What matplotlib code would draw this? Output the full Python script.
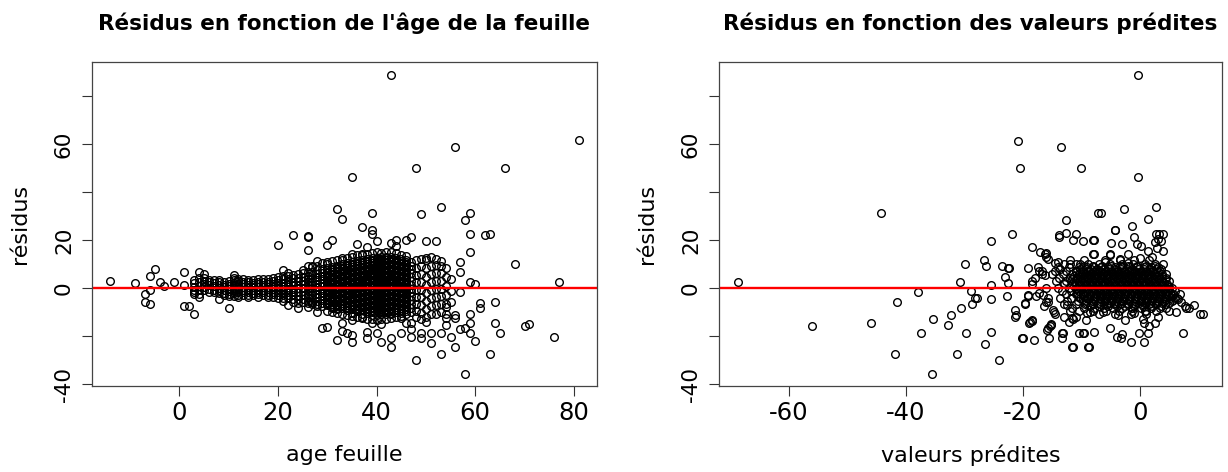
import numpy as np
import matplotlib
matplotlib.use("Agg")
import matplotlib.pyplot as plt

plt.rcParams['font.family'] = ['DejaVu Sans']

# -----------------------------------------------------------
# Panel 1 : residus en fonction de l'age de la feuille
# points isoles (age, residu)
points_age = [
    (-14, 2.9), (-9, 2.1), (-7, -2.5), (-7, -5.7), (-6, -6.7), (-6, 5.1), (-6, -0.8),
    (-5, 7.8), (-4, 2.5), (-3, 1.0), (-1, 2.5), (1, 6.8), (1, 1.4), (1, -7.5),
    (2, -7.5), (3, -11.0), (3, 3.3), (3, -1.5), (3, -2.5), (4, 6.5), (4, -3.6),
    (5, 5.8), (5, 1.7), (7, 3.3), (8, -4.6), (10, -8.5), (11, 5.4),
    (20, 17.8), (21, 7.5), (22, -7.1), (23, 22.1), (24, -8.5), (26, 21.7), (26, 21.2),
    (26, 15.8), (26, 9.2), (27, 9.0), (28, 11.4), (28, -10.1), (29, -16.5), (30, -16.1),
    (30, 17.8), (31, 20.0), (31, -8.5), (32, 32.8), (32, -21.7), (33, 28.8), (33, -14.4),
    (33, -17.8), (33, 11.7), (34, -18.9), (35, 46.1), (35, 14.4), (35, -13.3), (35, -19.6),
    (35, -22.6), (36, 18.3), (37, 25.6), (37, -11.9), (37, 13.8), (38, 17.0), (38, -18.2),
    (38, -21.0), (39, 31.4), (39, 24.4), (39, 22.4), (39, -14.4), (40, 19.7), (40, -18.9),
    (41, -15.0), (41, -22.6), (43, 18.6), (43, 88.9), (43, -20.8), (43, -24.4), (44, 19.9),
    (44, 17.6), (45, -18.9), (45, -12.6), (46, 20.0), (46, -14.4), (47, 21.1), (47, -20.3),
    (47, -14.4), (47, -17.2), (48, 50.1), (48, -30.0), (49, 30.8), (49, -21.0), (49, -18.6),
    (50, 19.7), (50, 12.4), (50, -14.0), (51, -22.8), (51, -18.6), (52, 19.7), (53, 33.9),
    (53, -27.5), (53, -18.6), (54, -15.4), (54, -7.8), (54, -10.6), (55, -20.3), (56, 58.8),
    (56, -24.4), (56, -11.3), (56, -12.6), (57, 11.0), (57, 6.8), (57, -1.5), (57, -17.1),
    (58, 28.3), (58, -35.8), (58, -16.8), (59, 31.4), (59, 22.5), (59, 15.1), (59, 2.6),
    (59, -10.6), (59, -14.4), (59, -18.6), (60, 1.7), (60, -22.1), (61, -6.1), (61, -8.5),
    (62, 22.2), (63, 22.5), (63, -27.5), (64, -5.7), (64, -14.4), (65, -18.9), (66, 50.1),
    (68, 9.9), (70, -15.9), (71, -14.8), (76, -20.5), (77, 2.6), (81, 61.5),
]

# nuage dense : residus par age entier
ages_noyau = [3, 4, 5, 6, 7, 8, 9, 10, 11, 12, 13, 14, 15, 16, 17, 18, 19, 20, 21, 22,
              23, 24, 25, 26, 27, 28, 29, 30, 31, 32, 33, 34, 35, 36, 37, 38, 39, 40,
              41, 42, 43, 44, 45, 46, 47, 48, 49, 50, 51, 52, 53, 54, 55]
res_noyau_age = [
    [2.0, 0.5, -0.8],
    [4.2, 2.6, 1.0, -0.6, -2.4],
    [4.0, 3.0, 0.4, -0.9],
    [2.6, 1.2, -0.2, -1.6, 3.4],
    [2.0, 0.8, -0.6, -1.8],
    [2.6, 1.4, 0.2, -1.0, -2.2, 3.2],
    [2.4, 1.3, 0.3, -0.8, -1.9, -3.0],
    [3.0, 1.9, 0.8, -0.3, -1.4, -2.5, -3.4],
    [3.4, 2.3, 1.2, 0.1, -1.0, -2.1, -3.2, 4.2],
    [2.8, 1.7, 0.6, -0.5, -1.6, -2.7, 3.8, -3.9],
    [2.6, 1.6, 0.5, -0.6, -1.7, -2.9, 3.6],
    [2.5, 1.4, 0.4, -0.7, -1.8, -2.8, -3.8, 3.4],
    [2.3, 1.3, 0.3, -0.8, -1.9, -3.0, 3.3],
    [2.7, 1.5, 0.4, -0.6, -1.7, -2.6, 3.9, -3.6],
    [2.4, 1.4, 0.3, -0.7, -1.8, -2.9, 3.7],
    [2.6, 1.6, 0.5, -0.5, -1.6, -2.7, -3.8, 3.9],
    [2.8, 1.7, 0.6, -0.4, -1.5, -2.6, 4.0, -3.9],
    [3.2, 2.0, 0.8, -0.4, -1.6, -2.8, -4.0, 4.6],
    [3.6, 2.3, 1.0, -0.3, -1.6, -2.9, -4.2, 5.0, -5.4],
    [3.8, 2.5, 1.1, -0.2, -1.5, -2.9, -4.3, 5.2, 6.4],
    [4.0, 2.6, 1.2, -0.2, -1.6, -3.0, -4.4, 5.4, -5.8],
    [4.4, 2.9, 1.4, -0.1, -1.6, -3.1, -4.6, 5.9, -6.2],
    [4.6, 3.1, 1.6, 0.1, -1.4, -2.9, -4.4, 6.2, -6.0, 7.6],
    [6.5, 5.2, 3.9, 2.6, 1.3, 0.0, -1.3, -2.6, -3.9, -5.2, -6.4, -8.0],
    [6.9, 5.5, 4.1, 2.7, 1.3, -0.1, -1.5, -2.9, -4.3, -5.7, -6.8, 8.6],
    [7.4, 6.0, 4.6, 3.2, 1.8, 0.4, -1.0, -2.4, -3.8, -5.2, -6.6, -7.6, 9.2],
    [7.8, 6.4, 5.0, 3.6, 2.2, 0.8, -0.6, -2.0, -3.4, -4.8, -6.2, -7.4, 10.4],
    [8.2, 6.8, 5.4, 4.0, 2.6, 1.2, -0.2, -1.6, -3.0, -4.4, -5.8, -7.2, 10.0, -9.6, 11.0],
    [8.8, 7.4, 6.0, 4.6, 3.2, 1.8, 0.4, -1.0, -2.4, -3.8, -5.2, -6.6, -8.0, 11.2, -9.8],
    [9.4, 8.0, 6.6, 5.2, 3.8, 2.4, 1.0, -0.4, -1.8, -3.2, -4.6, -6.0, -7.4, -8.8, 11.8,
     -10.4],
    [9.9, 8.5, 7.1, 5.7, 4.3, 2.9, 1.5, 0.1, -1.3, -2.7, -4.1, -5.5, -6.9, -8.3, 12.4,
     -10.9],
    [10.4, 9.0, 7.6, 6.2, 4.8, 3.4, 2.0, 0.6, -0.8, -2.2, -3.6, -5.0, -6.4, -7.8, -9.2,
     12.6, -11.2],
    [10.9, 9.5, 8.1, 6.7, 5.3, 3.9, 2.5, 1.1, -0.3, -1.7, -3.1, -4.5, -5.9, -7.3, -8.7,
     13.0, -10.4, -11.6],
    [11.3, 9.9, 8.5, 7.1, 5.7, 4.3, 2.9, 1.5, 0.1, -1.3, -2.7, -4.1, -5.5, -6.9, -8.3,
     -9.7, 13.6, -12.0],
    [11.7, 10.3, 8.9, 7.5, 6.1, 4.7, 3.3, 1.9, 0.5, -0.9, -2.3, -3.7, -5.1, -6.5, -7.9,
     -9.3, 14.1, -10.8, -12.4],
    [12.1, 10.7, 9.3, 7.9, 6.5, 5.1, 3.7, 2.3, 0.9, -0.5, -1.9, -3.3, -4.7, -6.1, -7.5,
     -8.9, -10.3, 14.4, -12.7],
    [12.5, 11.1, 9.7, 8.3, 6.9, 5.5, 4.1, 2.7, 1.3, -0.1, -1.5, -2.9, -4.3, -5.7, -7.1,
     -8.5, -9.9, 14.8, -11.4, -13.0],
    [12.7, 11.3, 9.9, 8.5, 7.1, 5.7, 4.3, 2.9, 1.5, 0.1, -1.3, -2.7, -4.1, -5.5, -6.9,
     -8.3, -9.7, 15.0, -11.2, -13.3],
    [13.0, 11.6, 10.2, 8.8, 7.4, 6.0, 4.6, 3.2, 1.8, 0.4, -1.0, -2.4, -3.8, -5.2, -6.6,
     -8.0, -9.4, -10.8, 14.6, -13.0],
    [13.1, 11.7, 10.3, 8.9, 7.5, 6.1, 4.7, 3.3, 1.9, 0.5, -0.9, -2.3, -3.7, -5.1, -6.5,
     -7.9, -9.3, -10.7, 15.2, -12.8],
    [12.8, 11.4, 10.0, 8.6, 7.2, 5.8, 4.4, 3.0, 1.6, 0.2, -1.2, -2.6, -4.0, -5.4, -6.8,
     -8.2, -9.6, -11.0, 14.9, -12.6],
    [12.4, 11.0, 9.6, 8.2, 6.8, 5.4, 4.0, 2.6, 1.2, -0.2, -1.6, -3.0, -4.4, -5.8, -7.2,
     -8.6, -10.0, 14.5, -12.2],
    [12.0, 10.6, 9.2, 7.8, 6.4, 5.0, 3.6, 2.2, 0.8, -0.6, -2.0, -3.4, -4.8, -6.2, -7.6,
     -9.0, -10.4, 13.8, -11.8],
    [11.6, 10.2, 8.8, 7.4, 6.0, 4.6, 3.2, 1.8, 0.4, -1.0, -2.4, -3.8, -5.2, -6.6, -8.0,
     -9.4, 13.2, -10.8],
    [11.0, 9.4, 7.8, 6.2, 4.6, 3.0, 1.4, -0.2, -1.8, -3.4, -5.0, -6.6, -8.2, -9.8],
    [8.4, 5.4, 2.4, -0.6, -3.6, -6.6, -9.6, 11.8, -12.0],
    [9.0, 5.8, 2.6, -0.6, -3.8, -7.0, -10.2, 12.2, -12.8],
    [8.2, 4.8, 1.4, -2.0, -5.4, -8.8, 11.6, -12.0],
    [9.4, 6.0, 2.6, -0.8, -4.2, -7.6, -11.0, 12.8],
    [9.8, 6.4, 3.0, -0.4, -3.8, -7.2, -10.6, 12.0],
    [9.0, 6.2, 3.0, -0.2, -3.4, -6.6, -9.8, 11.2],
    [8.4, 4.6, 0.8, -3.0, -6.8, -12.6],
    [3.6, -1.2, -6.0],
]

# second passage dans le coeur du nuage (ages 30 a 46)
ages_coeur = [30, 31, 32, 33, 34, 35, 36, 37, 38, 39, 40, 41, 42, 43, 44, 45, 46]
res_coeur_age = [
    [7.5, 6.1, 4.7, 3.3, 1.9, 0.5, -0.9, -2.3, -3.7, -5.1, -6.5],
    [8.1, 6.7, 5.3, 3.9, 2.5, 1.1, -0.3, -1.7, -3.1, -4.5, -5.9, -7.3],
    [8.7, 7.3, 5.9, 4.5, 3.1, 1.7, 0.3, -1.1, -2.5, -3.9, -5.3, -6.7, -8.1],
    [9.2, 7.8, 6.4, 5.0, 3.6, 2.2, 0.8, -0.6, -2.0, -3.4, -4.8, -6.2, -7.6],
    [9.7, 8.3, 6.9, 5.5, 4.1, 2.7, 1.3, -0.1, -1.5, -2.9, -4.3, -5.7, -7.1, -8.5],
    [10.2, 8.8, 7.4, 6.0, 4.6, 3.2, 1.8, 0.4, -1.0, -2.4, -3.8, -5.2, -6.6, -8.0],
    [10.6, 9.2, 7.8, 6.4, 5.0, 3.6, 2.2, 0.8, -0.6, -2.0, -3.4, -4.8, -6.2, -7.6, -9.0],
    [11.0, 9.6, 8.2, 6.8, 5.4, 4.0, 2.6, 1.2, -0.2, -1.6, -3.0, -4.4, -5.8, -7.2, -8.6],
    [11.4, 10.0, 8.6, 7.2, 5.8, 4.4, 3.0, 1.6, 0.2, -1.2, -2.6, -4.0, -5.4, -6.8, -8.2,
     -9.6],
    [11.8, 10.4, 9.0, 7.6, 6.2, 4.8, 3.4, 2.0, 0.6, -0.8, -2.2, -3.6, -5.0, -6.4, -7.8,
     -9.2],
    [12.0, 10.6, 9.2, 7.8, 6.4, 5.0, 3.6, 2.2, 0.8, -0.6, -2.0, -3.4, -4.8, -6.2, -7.6,
     -9.0],
    [12.3, 10.9, 9.5, 8.1, 6.7, 5.3, 3.9, 2.5, 1.1, -0.3, -1.7, -3.1, -4.5, -5.9, -7.3,
     -8.7, -10.1],
    [12.4, 11.0, 9.6, 8.2, 6.8, 5.4, 4.0, 2.6, 1.2, -0.2, -1.6, -3.0, -4.4, -5.8, -7.2,
     -8.6, -10.0],
    [12.1, 10.7, 9.3, 7.9, 6.5, 5.1, 3.7, 2.3, 0.9, -0.5, -1.9, -3.3, -4.7, -6.1, -7.5,
     -8.9, -10.3],
    [11.7, 10.3, 8.9, 7.5, 6.1, 4.7, 3.3, 1.9, 0.5, -0.9, -2.3, -3.7, -5.1, -6.5, -7.9,
     -9.3],
    [11.3, 9.9, 8.5, 7.1, 5.7, 4.3, 2.9, 1.5, 0.1, -1.3, -2.7, -4.1, -5.5, -6.9, -8.3,
     -9.7],
    [10.9, 9.5, 8.1, 6.7, 5.3, 3.9, 2.5, 1.1, -0.3, -1.7, -3.1, -4.5, -5.9, -7.3, -8.7],
]

# -----------------------------------------------------------
# Panel 2 : residus en fonction des valeurs predites
points_pred = [
    (-68.6, 2.5), (-56.0, -15.7), (-46.0, -14.4), (-44.2, 31.4), (-41.9, -27.5), (-41.5, -5.8),
    (-38.0, -1.5), (-37.4, -18.8), (-35.6, -35.8), (-35.3, -12.8), (-32.8, -15.3), (-32.2, -11.3),
    (-31.3, -27.5), (-30.8, 2.5), (-30.6, -8.5), (-29.9, 9.9), (-29.8, -18.8), (-28.8, -1.3),
    (-28.7, -6.7), (-28.2, -4.3), (-27.8, -4.0), (-26.7, 11.9), (-26.5, -23.1), (-26.3, 9.2),
    (-25.4, 19.6), (-25.4, 1.3), (-25.4, -4.6), (-25.4, -18.5), (-24.0, -30.0), (-23.5, 9.3),
    (-23.1, 4.7), (-22.7, -3.2), (-22.5, 2.2), (-22.5, 8.2), (-21.8, 22.5), (-21.3, -9.2),
    (-21.3, -11.9), (-21.1, -11.3), (-20.9, 61.4), (-20.5, 50.1), (-20.2, -20.7), (-20.0, -21.0),
    (-19.6, -6.7), (-19.2, 8.2), (-19.1, -3.3), (-19.0, -14.7), (-18.5, 1.7), (-18.4, -13.8),
    (-18.1, -21.7), (-18.4, 17.2), (-17.9, 4.0), (-17.7, -3.2), (-17.5, 8.9), (-17.0, 15.1),
    (-16.7, 7.2), (-16.3, 5.4), (-16.0, 14.7), (-15.9, -17.5), (-15.7, -5.7), (-15.5, -20.6),
    (-15.2, -15.4), (-14.8, -9.2), (-14.5, -10.8), (-14.5, 10.3), (-13.8, 22.1), (-13.5, 58.9),
    (-13.3, -20.6), (-13.1, -18.6), (-12.9, -11.9), (-12.7, 22.8), (-12.6, 28.3), (-12.2, -14.0),
    (-11.7, -12.6), (-11.6, -24.4), (-11.4, 20.0), (-10.9, 22.5), (-10.5, -18.6), (-10.0, 49.9),
    (-9.8, 19.7), (-9.5, -18.6), (-9.2, -13.3), (-9.0, -10.3), (-8.7, -24.4), (-7.9, 20.0),
    (-7.9, 14.2), (-7.8, -18.2), (-7.1, 31.4), (-6.6, 31.1), (-5.2, 14.2), (-5.1, -16.8),
    (-4.9, 18.6), (-4.2, 24.2), (-4.0, -20.3), (-3.8, -11.3), (-3.3, -21.0), (-3.1, 18.2),
    (-3.0, -19.3), (-2.7, 32.8), (-2.5, -13.3), (-2.1, 10.3), (-1.6, -22.6), (-1.3, 25.8),
    (-1.1, -10.3), (-1.0, 21.4), (-0.5, 18.3), (-0.3, 88.8), (-0.3, 46.1), (-0.2, -18.9),
    (0.2, 17.5), (0.6, -14.4), (0.7, -22.4), (1.3, -18.9), (1.3, 15.6), (1.3, 28.8),
    (2.7, 33.9), (2.7, 22.4), (2.9, 16.9), (3.3, 22.4), (4.0, 22.4), (4.0, 15.6),
    (4.9, 0.3), (5.0, -6.4), (5.7, -5.0), (6.2, -10.1), (6.9, -2.6), (7.3, -18.8),
    (7.6, -7.5), (7.9, -8.1), (8.4, -8.5), (9.3, -7.1), (10.3, -10.6), (10.8, -10.8),
    (-4.3, 24.4), (-13.8, 21.4), (-8.0, 20.0), (-8.0, 14.4), (-5.1, 13.8), (-16.3, 14.0),
    (-16.0, 13.0), (-15.8, 12.0), (-22.4, 8.5), (-17.2, 7.0), (-16.8, 6.0), (-18.5, 3.0),
    (-19.2, -2.9), (-17.3, -2.2), (-18.8, -14.0), (-18.4, -13.5), (-19.7, -6.4), (-15.7, -16.8),
    (-15.4, -16.0), (-15.2, -15.0), (-13.4, -18.9), (-14.7, -9.9), (-12.5, -7.0), (-12.0, -9.5),
    (-11.0, -12.0), (-11.4, -13.0), (-11.5, -24.4), (-8.8, -24.4), (-9.8, -18.6), (-8.6, -9.9),
    (-6.4, -9.9), (-16.0, 0.0), (-16.5, -3.0), (-15.8, -4.0), (-16.1, -6.0), (-16.4, -7.5),
    (-13.0, 2.0), (-14.0, 11.0), (-13.6, 8.0), (-12.0, 10.0), (-10.2, 10.0), (5.5, -3.0),
    (6.0, -4.0), (6.5, -4.5), (7.0, -6.0), (4.5, -8.5), (5.0, -9.5), (3.0, -12.0),
    (2.5, -14.5), (1.5, -16.0), (0.5, -13.0), (1.0, -9.5), (3.5, 8.0), (4.0, 10.0),
    (4.5, 6.0), (2.0, 13.0), (0.0, 12.5), (-2.0, 14.0), (-3.5, 12.0), (-6.0, 11.0),
    (3.0, 20.5), (3.6, 19.5), (2.6, 19.0),
]

# nuage dense : valeurs predites par niveau de residu
res_niveaux = [11.5, 10.0, 9.3, 8.6, 7.9, 7.2, 6.5, 5.8, 5.1, 4.4, 3.7, 3.0, 2.3, 1.6,
               0.9, 0.2, -0.5, -1.2, -1.9, -2.6, -3.3, -4.0, -4.7, -5.4, -6.1, -6.8,
               -7.5, -8.2, -9.6, -11.0]
pred_noyau = [
    [-12.0, -9.5, -6.0, -3.5, -1.0, 1.5],
    [-13.0, -11.0, -8.8, -7.0, -5.2, -3.0, -1.2, 0.8, 2.6],
    [-9.5, -8.0, -6.5, -5.0, -3.5, -2.0, -0.5, 1.0, 2.5],
    [-14.0, -12.2, -10.4, -9.0, -7.8, -6.6, -5.4, -4.2, -3.0, -1.8, -0.6, 0.6, 1.8, 3.0],
    [-10.3, -9.3, -8.3, -7.3, -6.3, -5.3, -4.3, -3.3, -2.3, -1.3, -0.3, 0.7, 1.7, 2.7],
    [-14.5, -12.6, -11.0, -9.8, -8.8, -7.8, -6.8, -5.8, -4.8, -3.8, -2.8, -1.8, -0.8,
     0.2, 1.2, 2.2, 3.4],
    [-10.9, -9.9, -8.9, -7.9, -6.9, -5.9, -4.9, -3.9, -2.9, -1.9, -0.9, 0.1, 1.1, 2.1, 3.1],
    [-15.0, -13.2, -11.6, -10.4, -9.4, -8.4, -7.4, -6.4, -5.4, -4.4, -3.4, -2.4, -1.4,
     -0.4, 0.6, 1.6, 2.6, 3.8],
    [-11.3, -10.3, -9.3, -8.3, -7.3, -6.3, -5.3, -4.3, -3.3, -2.3, -1.3, -0.3, 0.7, 1.7,
     2.7, 3.7],
    [-13.8, -12.0, -10.8, -9.8, -8.8, -7.8, -6.8, -5.8, -4.8, -3.8, -2.8, -1.8, -0.8,
     0.2, 1.2, 2.2, 3.2, 4.4],
    [-11.7, -10.7, -9.7, -8.7, -7.7, -6.7, -5.7, -4.7, -3.7, -2.7, -1.7, -0.7, 0.3, 1.3,
     2.3, 3.3, 4.3],
    [-14.4, -12.6, -11.2, -10.2, -9.2, -8.2, -7.2, -6.2, -5.2, -4.2, -3.2, -2.2, -1.2,
     -0.2, 0.8, 1.8, 2.8, 3.8, 5.0],
    [-10.9, -9.9, -8.9, -7.9, -6.9, -5.9, -4.9, -3.9, -2.9, -1.9, -0.9, 0.1, 1.1, 2.1,
     3.1, 4.1],
    [-13.0, -11.6, -10.4, -9.4, -8.4, -7.4, -6.4, -5.4, -4.4, -3.4, -2.4, -1.4, -0.4,
     0.6, 1.6, 2.6, 3.6, 4.6],
    [-11.3, -10.3, -9.3, -8.3, -7.3, -6.3, -5.3, -4.3, -3.3, -2.3, -1.3, -0.3, 0.7, 1.7,
     2.7, 3.7, 4.7],
    [-14.0, -12.2, -10.8, -9.8, -8.8, -7.8, -6.8, -5.8, -4.8, -3.8, -2.8, -1.8, -0.8,
     0.2, 1.2, 2.2, 3.2, 4.2, 5.4],
    [-11.0, -10.0, -9.0, -8.0, -7.0, -6.0, -5.0, -4.0, -3.0, -2.0, -1.0, 0.0, 1.0, 2.0,
     3.0, 4.0, 5.0],
    [-13.4, -11.8, -10.4, -9.2, -8.2, -7.2, -6.2, -5.2, -4.2, -3.2, -2.2, -1.2, -0.2,
     0.8, 1.8, 2.8, 3.8, 4.8, 6.0],
    [-10.8, -9.8, -8.8, -7.8, -6.8, -5.8, -4.8, -3.8, -2.8, -1.8, -0.8, 0.2, 1.2, 2.2,
     3.2, 4.2, 5.2],
    [-12.6, -11.0, -9.8, -8.6, -7.6, -6.6, -5.6, -4.6, -3.6, -2.6, -1.6, -0.6, 0.4,
     1.4, 2.4, 3.4, 4.4, 5.6],
    [-10.5, -9.5, -8.5, -7.5, -6.5, -5.5, -4.5, -3.5, -2.5, -1.5, -0.5, 0.5, 1.5, 2.5,
     3.5, 4.7],
    [-13.6, -11.8, -10.2, -9.0, -7.9, -6.9, -5.9, -4.9, -3.9, -2.9, -1.9, -0.9, 0.1,
     1.1, 2.1, 3.1, 4.1, 5.2, 6.4],
    [-9.8, -8.8, -7.8, -6.8, -5.8, -4.8, -3.8, -2.8, -1.8, -0.8, 0.2, 1.2, 2.2, 3.2, 4.4],
    [-12.4, -10.6, -9.2, -8.0, -6.9, -5.9, -4.9, -3.9, -2.9, -1.9, -0.9, 0.1, 1.1,
     2.1, 3.1, 4.1, 5.4],
    [-9.2, -8.2, -7.2, -6.2, -5.2, -4.2, -3.2, -2.2, -1.2, -0.2, 0.8, 1.8, 2.8, 3.8],
    [-13.0, -11.0, -9.4, -8.0, -6.8, -5.6, -4.4, -3.2, -2.0, -0.8, 0.4, 1.6, 2.8, 4.2],
    [-8.5, -7.0, -5.5, -4.0, -2.5, -1.0, 0.5, 2.0, 3.5],
    [-11.6, -9.6, -7.8, -6.2, -4.6, -3.0, -1.4, 0.2, 1.8, 3.4],
    [-10.4, -8.0, -5.8, -3.6, -1.4, 0.8, 2.8],
    [-7.0, -4.2, -1.6, 1.0],
]

yticks = [-40, -20, 0, 20, 40, 60, 80]
ytick_labels = ['-40', '', '0', '20', '', '60', '']

# -----------------------------------------------------------
# assemble the series
age = [p[0] for p in points_age]
res_age = [p[1] for p in points_age]
for a, vals in zip(ages_noyau + ages_coeur, res_noyau_age + res_coeur_age):
    age += [a] * len(vals)
    res_age += vals

pred = [p[0] for p in points_pred]
res_pred = [p[1] for p in points_pred]
for r, xs in zip(res_niveaux, pred_noyau):
    pred += xs
    res_pred += [r] * len(xs)

# -----------------------------------------------------------
fig = plt.figure(figsize=(12.28, 4.72), dpi=100)
ax1 = fig.add_axes([92 / 1228, 1 - 386 / 472, 505 / 1228, 324 / 472])
ax2 = fig.add_axes([719 / 1228, 1 - 386 / 472, 503 / 1228, 324 / 472])

panels = [
    (ax1, age, res_age, "Résidus en fonction de l'âge de la feuille", "age feuille",
     (-17.7, 84.7), [0, 20, 40, 60, 80]),
    (ax2, pred, res_pred, "Résidus en fonction des valeurs prédites", "valeurs prédites",
     (-71.9, 14.0), [-60, -40, -20, 0]),
]

for ax, x, y, title, xlabel, xlim, xticks in panels:
    ax.plot(x, y, 'o', ms=5.5, mfc='none', mec='black', mew=1.0, linestyle='none')
    ax.axhline(0, color='red', lw=1.7)
    ax.set_xlim(*xlim)
    ax.set_ylim(-40.8, 94.2)
    ax.set_xticks(xticks)
    ax.set_xticklabels([str(t) for t in xticks], fontsize=17.5)
    ax.set_yticks(yticks)
    ax.set_yticklabels(ytick_labels, rotation=90, va='center', fontsize=15.5)
    ax.tick_params(length=7, width=0.8, colors='#333333', labelcolor='black')
    ax.tick_params(axis='x', pad=4)
    ax.tick_params(axis='y', pad=6)
    for s in ax.spines.values():
        s.set_color('#444444')
        s.set_linewidth(0.9)
    ax.set_xlabel(xlabel, fontsize=16)
    ax.xaxis.set_label_coords(0.5, -0.213)
    ax.xaxis.label.set_va('center')
    ax.set_ylabel("résidus", fontsize=16)
    ax.yaxis.set_label_coords(-0.143, 0.5)
    ax.yaxis.label.set_va('center')
    ax.set_title(title, fontsize=15.5, fontweight='bold', y=1 + (62 - 32) / 324, va='center')

plt.savefig("out.png", dpi=100)
